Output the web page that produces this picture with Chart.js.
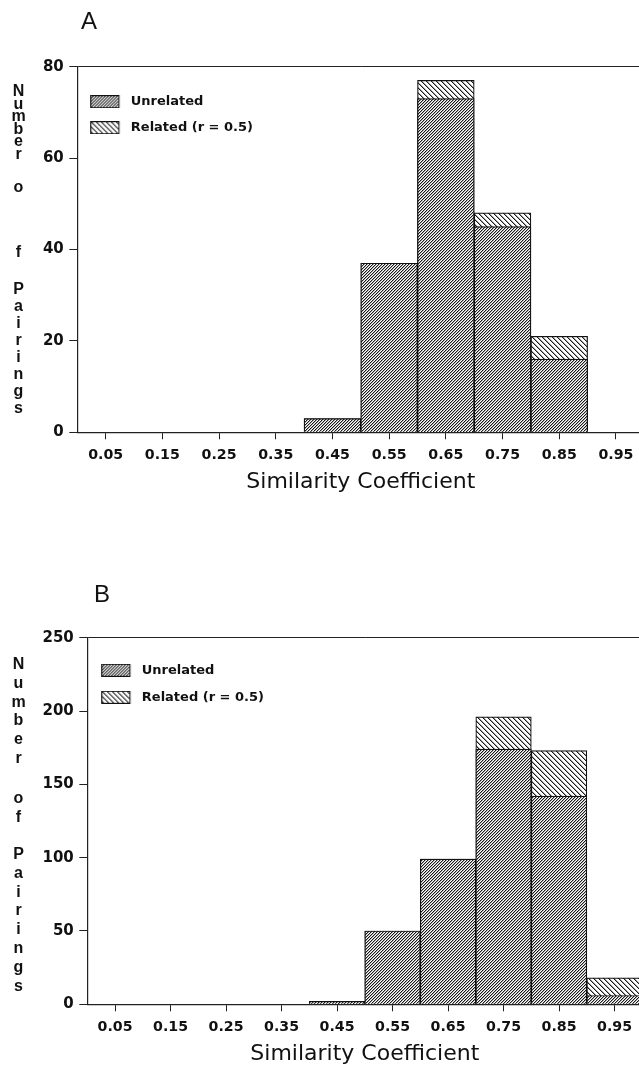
<!DOCTYPE html>
<html><head><meta charset="utf-8">
<script src="https://cdn.jsdelivr.net/npm/chart.js@4.4.1/dist/chart.umd.min.js"></script>
<style>
html,body{margin:0;padding:0;background:#fff;}
body{width:639px;height:1065px;overflow:hidden;position:relative;}
canvas{position:absolute;left:0;}
.letter{position:absolute;font-family:"Liberation Sans",Arial,sans-serif;font-size:24px;line-height:24px;color:#111;}
.vword{position:absolute;font-family:"Liberation Sans",Arial,sans-serif;font-weight:bold;font-size:16px;writing-mode:vertical-lr;text-orientation:upright;color:#111;line-height:20px;width:20px;white-space:nowrap;}
</style></head><body>
<canvas id="cA" width="660" height="500" style="top:0px"></canvas>
<canvas id="cB" width="660" height="530" style="top:540px"></canvas>
<div class="letter" style="left:81px;top:9px">A</div>
<div class="letter" style="left:94px;top:582px">B</div>
<div class="vword" style="left:8px;top:82px;letter-spacing:-4.4px">Number</div>
<div class="vword" style="left:8px;top:178px;letter-spacing:48px">of</div>
<div class="vword" style="left:8px;top:280px;letter-spacing:0px">Pairings</div>
<div class="vword" style="left:8px;top:654.5px;letter-spacing:1.8px">Number</div>
<div class="vword" style="left:8px;top:789px;letter-spacing:1.8px">of</div>
<div class="vword" style="left:8px;top:845px;letter-spacing:1.8px">Pairings</div>
<script>
// ---- data ----
const categories = ['0.05','0.15','0.25','0.35','0.45','0.55','0.65','0.75','0.85','0.95'];
const seriesNames = ['Unrelated', 'Related (r = 0.5)'];
const unrelatedA = [0, 0, 0, 0, 3, 37, 73, 45, 16, 0];
const relatedA   = [0, 0, 0, 0, 3, 37, 77, 48, 21, 0];
const unrelatedB = [0, 0, 0, 0, 2, 50, 99, 174, 142, 6];
const relatedB   = [0, 0, 0, 0, 2, 50, 99, 196, 173, 18];
const yTicksA = [0, 20, 40, 60, 80];
const yTicksB = [0, 50, 100, 150, 200, 250];
const axisTitle = 'Similarity Coefficient';

Chart.defaults.font.family = '"DejaVu Sans", sans-serif';
Chart.defaults.color = '#111';

function tile(size, dir, shades) {
  const c = document.createElement('canvas');
  c.width = c.height = size;
  const g = c.getContext('2d');
  const img = g.createImageData(size, size);
  for (let y = 0; y < size; y++) for (let x = 0; x < size; x++) {
    const k = dir > 0 ? (x + y) % size : ((x - y) % size + size) % size;
    const v = shades[k] !== undefined ? shades[k] : 255;
    const i = (y * size + x) * 4;
    img.data[i] = img.data[i+1] = img.data[i+2] = v; img.data[i+3] = 255;
  }
  g.putImageData(img, 0, 0);
  return c;
}
const unrelTile = tile(3, 1, {0: 25, 1: 170});
const relTile = tile(5, -1, {0: 25, 1: 160});

function swatch(t) {
  const c = document.createElement('canvas');
  c.width = 34; c.height = 13;
  const g = c.getContext('2d');
  g.fillStyle = g.createPattern(t, 'repeat');
  g.fillRect(0.7, 0.5, 28, 12);
  g.strokeStyle = '#111'; g.lineWidth = 1;
  g.strokeRect(0.7, 0.5, 28, 12);
  return c;
}
const swatches = [swatch(unrelTile), swatch(relTile)];

const legendPin = {
  id: 'legendPin',
  afterLayout(chart) {
    const l = chart.legend, a = chart.chartArea;
    if (!l) return;
    l.left = a.left; l.top = a.top; l.right = a.right; l.bottom = a.bottom;
    l.width = a.right - a.left; l.height = a.bottom - a.top;
  }
};

function buildChart(id, unrel, rel, yTicks, geo) {
  const ctx = document.getElementById(id).getContext('2d');
  const yMax = yTicks[yTicks.length - 1];
  return new Chart(ctx, {
    type: 'bar',
    data: {
      labels: categories,
      datasets: [
        { label: seriesNames[0], data: unrel, backgroundColor: ctx.createPattern(unrelTile, 'repeat'),
          borderColor: '#111', borderWidth: 1.2 },
        { label: seriesNames[1], data: rel, backgroundColor: ctx.createPattern(relTile, 'repeat'),
          borderColor: '#111', borderWidth: 1.2 }
      ]
    },
    plugins: [legendPin],
    options: {
      responsive: false, animation: false, devicePixelRatio: 1,
      layout: { padding: geo.pad },
      datasets: { bar: { grouped: false, barPercentage: 1, categoryPercentage: 1 } },
      plugins: {
        tooltip: { enabled: false },
        legend: {
          display: true, position: 'chartArea', align: 'start',
          title: { display: true, text: '', font: { size: 1 }, padding: { top: geo.legT, bottom: 0 } },
          labels: {
            usePointStyle: true, pointStyleWidth: 34, padding: geo.legPad,
            font: { size: 13, weight: 'bold' }, color: '#111',
            generateLabels(chart) {
              const items = Chart.defaults.plugins.legend.labels.generateLabels(chart);
              items.forEach((it, i) => { it.pointStyle = swatches[i]; });
              return items;
            }
          }
        }
      },
      scales: {
        x: {
          type: 'category', offset: true,
          grid: { offset: false, drawOnChartArea: false, tickLength: 7, color: '#222', lineWidth: 1 },
          border: { color: '#222', width: 1.2 },
          ticks: { font: { size: 14.2, weight: 'bold' }, padding: 8, maxRotation: 0, autoSkip: false, color: '#111' },
          title: { display: true, text: axisTitle, font: { size: 22 }, padding: { top: 0, bottom: 0 }, color: '#111' },
          afterFit(s) { s.height = 63.3; }
        },
        y: {
          min: 0, max: yMax,
          afterBuildTicks(s) { s.ticks = yTicks.map(v => ({ value: v })); },
          grid: { drawOnChartArea: true, tickLength: 8, lineWidth: 1, tickColor: '#222',
                  color: c => (c.tick && c.tick.value === yMax) ? '#222' : 'rgba(0,0,0,0)' },
          border: { color: '#222', width: 1.2 },
          ticks: { font: { size: 15, weight: 'bold' }, padding: 5.5, color: '#111' },
          afterFit(s) { s.width = geo.left; }
        }
      }
    }
  });
}

buildChart('cA', unrelatedA, relatedA, yTicksA, {
  left: 77.3, pad: { left: 0, top: 66.7, right: 15.7, bottom: 4.4 }, legT: 14.3, legPad: 13
});
buildChart('cB', unrelatedB, relatedB, yTicksB, {
  left: 87.3, pad: { left: 0, top: 97.7, right: 17.7, bottom: 2.4 }, legT: 10.9, legPad: 14
});
</script>
</body></html>
